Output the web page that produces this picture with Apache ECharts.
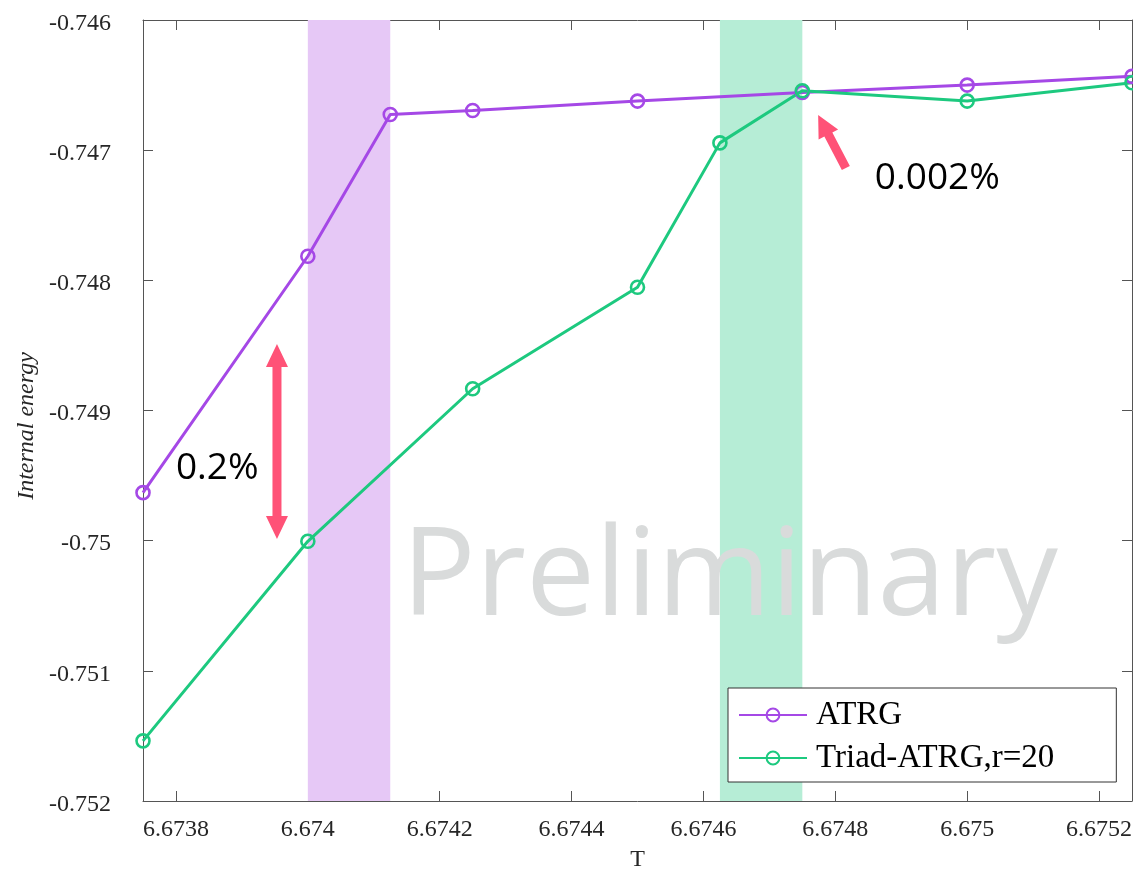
<!DOCTYPE html>
<html><head><meta charset="utf-8">
<script src="https://cdn.jsdelivr.net/npm/echarts@6/dist/echarts.min.js"></script>
<style>html,body{margin:0;padding:0;background:#fff}#c{width:1133px;height:871px}</style>
</head><body><div id="c"></div>
<script>
// ---- data ----
const seriesNames = ['ATRG', 'Triad-ATRG,r=20'];
const atrgT  = [6.67375, 6.674, 6.674125, 6.67425, 6.6745, 6.67475, 6.675, 6.67525];
const atrgE  = [-0.749631, -0.747815, -0.746726, -0.746695, -0.746623, -0.746557, -0.7465, -0.746433];
const triadT = [6.67375, 6.674, 6.67425, 6.6745, 6.674625, 6.67475, 6.675, 6.67525];
const triadE = [-0.751538, -0.750005, -0.748833, -0.748053, -0.746944, -0.746544, -0.746623, -0.746482];
const xTicks = [6.6738, 6.674, 6.6742, 6.6744, 6.6746, 6.6748, 6.675, 6.6752];
const xTickLabels = ['6.6738', '6.674', '6.6742', '6.6744', '6.6746', '6.6748', '6.675', '6.6752'];
const yTicks = [-0.752, -0.751, -0.75, -0.749, -0.748, -0.747, -0.746];
const yTickLabels = ['-0.752', '-0.751', '-0.75', '-0.749', '-0.748', '-0.747', '-0.746'];
const bandRanges = [[6.674, 6.674125], [6.674625, 6.67475]];
const xRange = [6.67375, 6.67525];
const yRange = [-0.752, -0.746];
const annotationTexts = ['0.2%', '0.002%'];
const watermarkText = 'Preliminary';

// ---- styles ----
const purple = '#A548E6', green = '#1DC97F';
const purpleBand = '#E6C8F6', greenBand = '#B6EDD6';
const arrowColor = '#FF5277';
const axisColor = '#555';
const serif = '"Liberation Serif", "Times New Roman", serif';
const sans = '"Open Sans", "Noto Sans", sans-serif';

function pick(ticks, labels) {
  return v => { const i = ticks.findIndex(t => Math.abs(t - v) < 1e-9); return i >= 0 ? labels[i] : ''; };
}

const chart = echarts.init(document.getElementById('c'), null, {renderer: 'canvas'});

function xAx(pos, showLabel) {
  return {
    type: 'value', position: pos, min: xRange[0], max: xRange[1],
    axisLine: {show: true, onZero: false, lineStyle: {color: axisColor, width: 1}},
    axisTick: {show: true, inside: true, length: 10, customValues: xTicks, lineStyle: {color: axisColor}},
    axisLabel: {show: showLabel, customValues: xTicks, formatter: pick(xTicks, xTickLabels),
      fontFamily: serif, fontSize: 24, color: '#262626', margin: 17},
    splitLine: {show: false},
    name: showLabel ? 'T' : '', nameLocation: 'middle', nameGap: 47,
    nameTextStyle: {fontFamily: serif, fontSize: 24, color: '#262626'}
  };
}
const yLabel = pick(yTicks, yTickLabels);
function yAx(pos, showLabel) {
  return {
    type: 'value', position: pos, min: yRange[0], max: yRange[1], interval: 0.001,
    axisLine: {show: true, onZero: false, lineStyle: {color: axisColor, width: 1}},
    axisTick: {show: true, inside: true, length: 10, customValues: yTicks, lineStyle: {color: axisColor}},
    axisLabel: {show: showLabel, customValues: yTicks, formatter: v => '{a|' + yLabel(v) + '}',
      margin: 32,
      rich: {a: {fontFamily: serif, fontSize: 24, color: '#262626', padding: [7, 0, 0, 0]}}},
    splitLine: {show: false}
  };
}

function lineSeries(name, T, E, color) {
  return {
    name, type: 'line', xAxisIndex: 0, yAxisIndex: 0, z: 5,
    data: T.map((t, i) => [t, E[i]]),
    symbol: 'circle', symbolSize: 13, showSymbol: true,
    lineStyle: {color, width: 3},
    itemStyle: {color: 'rgba(255,255,255,0)', borderColor: color, borderWidth: 2.6},
    emphasis: {disabled: true}, animation: false, clip: false
  };
}

chart.setOption({
  animation: false,
  backgroundColor: '#fff',
  grid: {left: 143, top: 20, width: 989, height: 781, containLabel: false, outerBoundsMode: 'none'},
  xAxis: [xAx('bottom', true), xAx('top', false)],
  yAxis: [yAx('left', true), yAx('right', false)],
  legend: {
    orient: 'vertical', left: 728, top: 688,
    padding: [10, 62, 7, 10],
    itemWidth: 68, itemHeight: 16, itemGap: 9,
    backgroundColor: '#fff', borderColor: '#333', borderWidth: 1,
    textStyle: {fontFamily: serif, fontSize: 33, color: '#000', lineHeight: 34, padding: [0, 0, 0, 4]},
    data: seriesNames, selectedMode: false
  },
  series: [
    {
      name: 'bands', type: 'line', data: [], z: 1, silent: true,
      markArea: {
        silent: true,
        data: bandRanges.map((r, i) => [
          {xAxis: r[0], itemStyle: {color: i === 0 ? purpleBand : greenBand, opacity: 1}},
          {xAxis: r[1]}
        ])
      }
    },
    lineSeries(seriesNames[0], atrgT, atrgE, purple),
    lineSeries(seriesNames[1], triadT, triadE, green)
  ]
});

// ---- annotations positioned in data space ----
const px = p => chart.convertToPixel({gridIndex: 0}, p);
function arrowPoints(tail, tip, s, hl, hw, both) {
  const dx = tip[0] - tail[0], dy = tip[1] - tail[1], L = Math.hypot(dx, dy);
  const u = [dx / L, dy / L], n = [-u[1], u[0]];
  const P = (b, a, k) => [b[0] + a[0] * k, b[1] + a[1] * k];
  const neck1 = P(tip, u, -hl);
  if (!both) {
    return [P(tail, n, s / 2), P(neck1, n, s / 2), P(neck1, n, hw / 2), tip,
            P(neck1, n, -hw / 2), P(neck1, n, -s / 2), P(tail, n, -s / 2)];
  }
  const neck2 = P(tail, u, hl);
  return [P(neck2, n, s / 2), P(neck1, n, s / 2), P(neck1, n, hw / 2), tip,
          P(neck1, n, -hw / 2), P(neck1, n, -s / 2), P(neck2, n, -s / 2),
          P(neck2, n, -hw / 2), tail, P(neck2, n, hw / 2)];
}
const dTop = px([6.6739532, -0.7484891]), dBot = px([6.6739532, -0.749987]);
const sTip = px([6.674774, -0.746730]), sTail = px([6.674816, -0.747137]);
const t1 = px([6.67380, -0.749449]), t2 = px([6.674860, -0.747214]);
const wm = px([6.67464, -0.750300]);

chart.setOption({
  graphic: [
    {type: 'text', z: 2, silent: true, x: wm[0], y: wm[1],
     style: {text: watermarkText, fontFamily: sans, fontSize: 123, fill: '#D9DBDB', align: 'center', verticalAlign: 'middle'}},
    {type: 'polygon', z: 10, silent: true, shape: {points: arrowPoints(dBot, dTop, 9, 23, 22, true)}, style: {fill: arrowColor}},
    {type: 'polygon', z: 10, silent: true, shape: {points: arrowPoints(sTail, sTip, 9, 22, 22, false)}, style: {fill: arrowColor}},
    {type: 'text', z: 10, silent: true, x: t1[0], y: t1[1],
     style: {text: annotationTexts[0], fontFamily: sans, fontSize: 37, fill: '#000', align: 'left', verticalAlign: 'middle'}},
    {type: 'text', z: 10, silent: true, x: t2[0], y: t2[1],
     style: {text: annotationTexts[1], fontFamily: sans, fontSize: 37, fill: '#000', align: 'left', verticalAlign: 'middle'}},
    {type: 'text', z: 10, silent: true, x: 27, y: 426, rotation: Math.PI / 2,
     style: {text: 'Internal energy', fontFamily: serif, fontStyle: 'italic', fontSize: 24, fill: '#262626', align: 'center', verticalAlign: 'middle'}}
  ]
});
</script>
</body></html>
